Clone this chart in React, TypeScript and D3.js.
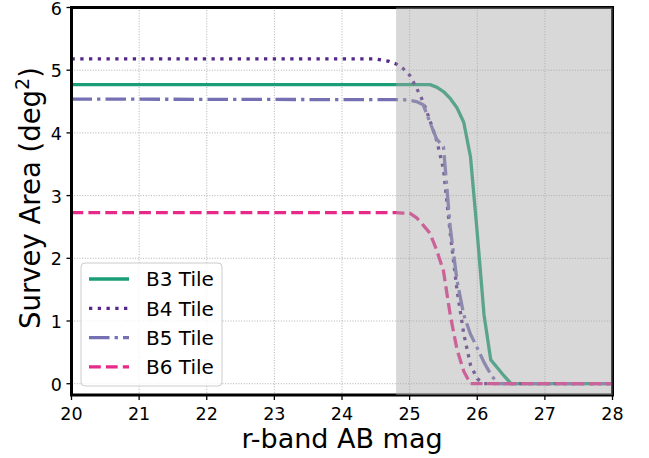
import React from "react";
import * as d3 from "d3";

const mags = [20.0, 24.5, 24.6, 24.7, 24.8, 24.9, 25.0, 25.1, 25.2, 25.3, 25.4, 25.5, 25.6, 25.7, 25.8, 25.9, 26.0, 26.1, 26.2, 26.3, 26.4, 26.5, 28.0];
const b3 = [4.77, 4.77, 4.77, 4.77, 4.77, 4.77, 4.77, 4.77, 4.77, 4.77, 4.73, 4.66, 4.55, 4.40, 4.17, 3.62, 2.4, 1.1, 0.38, 0.25, 0.12, 0.0, 0.0];
const b4 = [5.18, 5.18, 5.16, 5.14, 5.10, 5.03, 4.92, 4.72, 4.5, 4.2, 3.88, 3.42, 2.4, 1.5, 0.8, 0.3, 0.08, 0.0, 0.0, 0.0, 0.0, 0.0, 0.0];
const b5 = [4.54, 4.53, 4.53, 4.53, 4.53, 4.53, 4.52, 4.50, 4.45, 4.17, 3.9, 3.78, 2.5, 1.65, 1.1, 0.79, 0.57, 0.34, 0.15, 0.0, 0.0, 0.0, 0.0];
const b6 = [2.73, 2.73, 2.73, 2.73, 2.73, 2.72, 2.72, 2.65, 2.53, 2.40, 2.13, 1.8, 1.1, 0.55, 0.2, 0.0, 0.0, 0.0, 0.0, 0.0, 0.0, 0.0, 0.0];

const seriesNames = ["B3 Tile", "B4 Tile", "B5 Tile", "B6 Tile"];
const seriesColors = ["#1b9e77", "#542788", "#7570b3", "#e7298a"];
const seriesDash = ["none", "3.3,5.45", "20.5,5.1,3.3,5.1", "11.8,5.1"];
const xTicks = [20, 21, 22, 23, 24, 25, 26, 27, 28];
const yTicks = [0, 1, 2, 3, 4, 5, 6];
const shadeStart = 24.8;

const W = 649, H = 458;
const L = 71.5, R = 612.5, T = 7.5, B = 395;
const FONT = "DejaVu Sans";

export default function App() {
  const x = d3.scaleLinear().domain([20, 28]).range([L, R]);
  const y = d3.scaleLinear().domain([-0.18, 6]).range([B, T]);
  const all = [b3, b4, b5, b6];
  const line = d3.line<number>().x((_, i) => x(mags[i])).y((v) => y(v));
  return (
    <svg width={W} height={H} style={{ position: "absolute", left: 0, top: 0 }} fontFamily={FONT}>
      <rect x={0} y={0} width={W} height={H} fill="white" />
      <defs>
        <clipPath id="ax">
          <rect x={L} y={T} width={R - L} height={B - T} />
        </clipPath>
      </defs>
      {xTicks.map((t) => (
        <line key={"gx" + t} x1={x(t)} x2={x(t)} y1={T} y2={B} stroke="#b0b0b0" strokeWidth={1} strokeDasharray="1,1.65" />
      ))}
      {yTicks.map((t) => (
        <line key={"gy" + t} x1={L} x2={R} y1={y(t)} y2={y(t)} stroke="#b0b0b0" strokeWidth={1} strokeDasharray="1,1.65" />
      ))}
      <g clipPath="url(#ax)">
        {all.map((s, i) => (
          <path key={i} d={line(s) || ""} fill="none" stroke={seriesColors[i]} strokeWidth={3.3}
            strokeDasharray={seriesDash[i]} strokeLinecap="butt" strokeLinejoin="round" />
        ))}
      </g>
      <rect x={L} y={T} width={R - L} height={B - T} fill="none" stroke="black" strokeWidth={3} />
      <rect x={x(shadeStart)} y={T} width={R - x(shadeStart)} height={B - T} fill="#a9a9a9" fillOpacity={0.45} />
      {xTicks.map((t) => (
        <g key={"tx" + t}>
          <line x1={x(t)} x2={x(t)} y1={B} y2={B + 5} stroke="black" strokeWidth={1.3} />
          <text x={x(t)} y={420} fontSize={17.5} textAnchor="middle" fill="black">{t}</text>
        </g>
      ))}
      {yTicks.map((t) => (
        <g key={"ty" + t}>
          <line x1={L - 5} x2={L} y1={y(t)} y2={y(t)} stroke="black" strokeWidth={1.3} />
          <text x={62} y={y(t) + 7} fontSize={17.5} textAnchor="end" fill="black">{t}</text>
        </g>
      ))}
      <text x={342} y={448} fontSize={27} textAnchor="middle" fill="black">r-band AB mag</text>
      <text transform={`translate(40,198) rotate(-90)`} fontSize={27.5} textAnchor="middle" fill="black">
        Survey Area (deg<tspan dy={-11} fontSize={19}>2</tspan><tspan dy={11}>)</tspan>
      </text>
      <rect x={81} y={263} width={141} height={123} rx={4} ry={4} fill="white" fillOpacity={0.8} stroke="#cccccc" strokeWidth={1} />
      {seriesNames.map((n, i) => {
        const ly = 279 + i * 29.3;
        return (
          <g key={n}>
            <line x1={89} x2={129} y1={ly} y2={ly} stroke={seriesColors[i]} strokeWidth={3.3} strokeDasharray={seriesDash[i]} />
            <text x={146} y={ly + 7.3} fontSize={20} fill="black">{n}</text>
          </g>
        );
      })}
    </svg>
  );
}
